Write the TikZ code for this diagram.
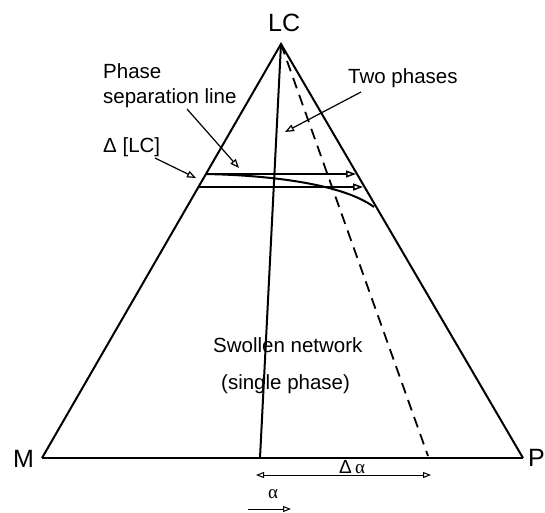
\documentclass[tikz,border=0pt]{standalone}
\usepackage{fontspec}
\setmainfont{Liberation Sans}
\newfontfamily\grkserif{Liberation Serif}
\usetikzlibrary{arrows.meta}
\tikzset{
  lbl/.style={inner sep=0pt, font=\fontsize{20.5}{24}\selectfont},
  corner/.style={inner sep=0pt, font=\fontsize{25}{28}\selectfont},
  edge/.style={line width=2pt},
  ptr/.style={line width=1.2pt, -{Triangle[open, length=9pt, width=7pt]}},
  tieline/.style={line width=1.5pt, -{Triangle[open, length=10pt, width=7pt]}},
  dim/.style={line width=1pt, {Triangle[open, length=8pt, width=6pt]}-{Triangle[open, length=8pt, width=6pt]}},
}
\begin{document}
\begin{tikzpicture}[x=1pt,y=-1pt]
\useasboundingbox (0,0) rectangle (545,512);
% corners
\coordinate (A) at (281,44);
\coordinate (Mc) at (42,458);
\coordinate (Pc) at (523,458);
\coordinate (V) at (260,458);
\coordinate (D) at (428,456);
% triangle
\draw[edge, line join=miter] (Mc) -- (A) -- (Pc);
\draw[line width=2.5pt] (Mc) -- (Pc);
\draw[edge] (A) -- (V);
\draw[line width=1.8pt, dash pattern=on 11pt off 7pt] (A) -- (D);
% tie lines
\coordinate (u1) at (205,174);
\coordinate (u2) at (356,174);
\coordinate (l1) at (199,187);
\coordinate (l2) at (363,187);
\draw[tieline] (u1) -- (u2);
\draw[tieline] (l1) -- (l2);
% phase separation curve
\coordinate (c2) at (374,207);
\draw[line width=2pt] (u1) .. controls (260,175) and (340,182) .. (c2);
% labels
\node[corner, anchor=base west] (LC) at (268,31) {LC};
\node[corner, anchor=base west] (M) at (13,467) {M};
\node[corner, anchor=base west] (P) at (528,466) {P};
\node[lbl, anchor=base west] (ph1) at (103,78) {Phase};
\node[lbl, anchor=base west] (ph2) at (103,103) {separation line};
\node[lbl, anchor=base west] (two) at (348,83) {Two phases};
\node[lbl, anchor=base west] (dlc) at (103,152) {Δ [LC]};
\node[lbl, anchor=base west] (sw1) at (213,352) {Swollen network};
\node[lbl, anchor=base west] (sw2) at (221,389) {(single phase)};
\node[inner sep=0pt, anchor=base west, font=\fontsize{19}{22}\selectfont] (da) at (339,473) {Δ\,{\grkserif α}};
\node[inner sep=0pt, anchor=base west, font=\grkserif\fontsize{19}{22}\selectfont] (al) at (268,498) {α};
% pointers
\coordinate (p1s) at (187,109);
\coordinate (p1e) at (239,168);
\coordinate (p2s) at (361,92);
\coordinate (p2e) at (285,132);
\coordinate (p3s) at (155,158);
\coordinate (p3e) at (196,178);
\draw[ptr] (p1s) -- (p1e);
\draw[ptr] (p2s) -- (p2e);
\draw[ptr] (p3s) -- (p3e);
% delta alpha
\coordinate (d1) at (256,475);
\coordinate (d2) at (431,475);
\draw[dim] (d1) -- (d2);
\coordinate (a1) at (248,509);
\coordinate (a2) at (291,509);
\draw[line width=1pt, -{Triangle[open, length=8pt, width=6pt]}] (a1) -- (a2);
\end{tikzpicture}
\end{document}
